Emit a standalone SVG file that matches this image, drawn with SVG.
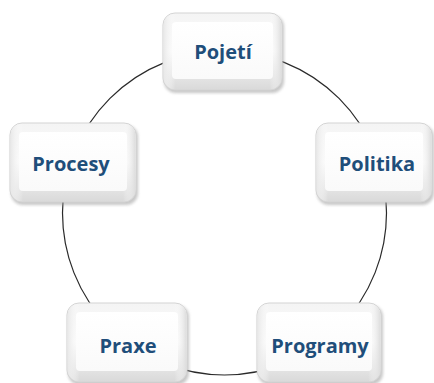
<svg xmlns="http://www.w3.org/2000/svg" width="434" height="383" viewBox="0 0 434 383">
<defs>
<linearGradient id="outer" x1="0" y1="0" x2="0" y2="1">
<stop offset="0" stop-color="#f4f4f4"/>
<stop offset="0.5" stop-color="#fbfbfb"/>
<stop offset="1" stop-color="#d9d9d9"/>
</linearGradient>
<linearGradient id="side" x1="0" y1="0" x2="1" y2="0">
<stop offset="0" stop-color="#e8e8e8"/>
<stop offset="0.1" stop-color="#ffffff" stop-opacity="0"/>
<stop offset="0.9" stop-color="#ffffff" stop-opacity="0"/>
<stop offset="1" stop-color="#dcdcdc"/>
</linearGradient>
<linearGradient id="inner" x1="0" y1="0" x2="0" y2="1">
<stop offset="0" stop-color="#ffffff"/>
<stop offset="1" stop-color="#fafafa"/>
</linearGradient>
<filter id="sh" x="-20%" y="-20%" width="140%" height="140%">
<feGaussianBlur stdDeviation="1.5"/>
</filter>
</defs>
<style>
.shadow{fill:#9a9a9a;opacity:0.55;filter:url(#sh)}
.box{fill:url(#outer);stroke:#d4d4d4;stroke-width:1}
.sideg{fill:url(#side)}
.panel{fill:url(#inner)}
.lbl{font-family:"Open Sans","Liberation Sans",sans-serif;font-weight:bold;font-size:20px;fill:#1f4e7a;text-anchor:middle}
.ring{fill:none;stroke:#2a2a2a;stroke-width:1.2}
</style>
<g id="connectors">
<circle class="ring" cx="224.5" cy="213" r="162"/>
</g>
<g id="pojeti">
<rect class="shadow" x="164" y="15" width="120" height="78" rx="12"/>
<rect class="box" x="163" y="13" width="119" height="77" rx="12"/>
<rect class="sideg" x="163.5" y="13.5" width="118" height="76" rx="12"/>
<rect class="panel" x="172" y="22" width="101" height="57" rx="4"/>
<text class="lbl" x="223" y="59">Pojetí</text>
</g>
<g id="procesy">
<rect class="shadow" x="11" y="125" width="127" height="80" rx="12"/>
<rect class="box" x="10" y="123" width="126" height="79" rx="12"/>
<rect class="sideg" x="10.5" y="123.5" width="125" height="78" rx="12"/>
<rect class="panel" x="19" y="132" width="108" height="59" rx="4"/>
<text class="lbl" x="71" y="171">Procesy</text>
</g>
<g id="politika">
<rect class="shadow" x="317" y="125" width="117" height="80" rx="12"/>
<rect class="box" x="316" y="123" width="116" height="79" rx="12"/>
<rect class="sideg" x="316.5" y="123.5" width="115" height="78" rx="12"/>
<rect class="panel" x="325" y="132" width="98" height="59" rx="4"/>
<text class="lbl" x="377" y="171">Politika</text>
</g>
<g id="praxe">
<rect class="shadow" x="68" y="305" width="121" height="80" rx="12"/>
<rect class="box" x="67" y="303" width="120" height="79" rx="12"/>
<rect class="sideg" x="67.5" y="303.5" width="119" height="78" rx="12"/>
<rect class="panel" x="76" y="312" width="102" height="59" rx="4"/>
<text class="lbl" x="128" y="353">Praxe</text>
</g>
<g id="programy">
<rect class="shadow" x="258" y="305" width="125" height="80" rx="12"/>
<rect class="box" x="257" y="303" width="124" height="79" rx="12"/>
<rect class="sideg" x="257.5" y="303.5" width="123" height="78" rx="12"/>
<rect class="panel" x="266" y="312" width="106" height="59" rx="4"/>
<text class="lbl" x="320" y="353">Programy</text>
</g>
</svg>
